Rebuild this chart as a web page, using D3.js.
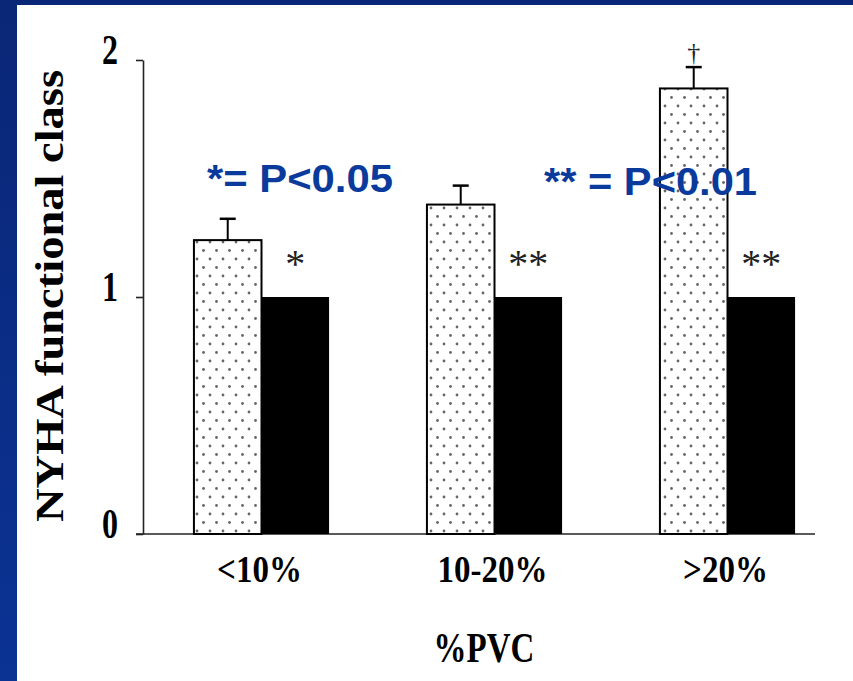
<!DOCTYPE html>
<html>
<head>
<meta charset="utf-8">
<script src="https://cdn.jsdelivr.net/npm/d3@7/dist/d3.min.js"></script>
<style>
  html, body { margin: 0; padding: 0; background: #fff; }
  svg { display: block; }
</style>
</head>
<body>
<svg id="chart" width="853" height="681"></svg>
<script>
// NYHA functional class by PVC burden: before (dotted) vs after (black)
const categories = ["<10%", "10-20%", ">20%"];
const beforeValues = [1.24, 1.39, 1.88];
const beforeErrors = [0.09, 0.08, 0.09];
const afterValues = [1.0, 1.0, 1.0];
const significance = ["*", "**", "**"];
const yTicks = [0, 1, 2];
const yLabel = "NYHA functional class";
const xLabel = "%PVC";
const noteOne = "*= P<0.05";
const noteTwo = "** = P<0.01";

const svg = d3.select("#chart");
const W = 853, H = 681;

// slide frame
const grad = svg.append("defs").append("linearGradient").attr("id", "frame")
  .attr("x1", 0).attr("y1", 0).attr("x2", 0).attr("y2", 1);
grad.append("stop").attr("offset", 0).attr("stop-color", "#0a2676");
grad.append("stop").attr("offset", 1).attr("stop-color", "#0b3394");
svg.append("rect").attr("x", 0).attr("y", 0).attr("width", W).attr("height", H).attr("fill", "url(#frame)");
svg.append("rect").attr("x", 17).attr("y", 5).attr("width", W - 17).attr("height", H - 5).attr("fill", "#fff");

// stipple fill
const defs = svg.append("defs");
const pat = defs.append("pattern").attr("id", "dots")
  .attr("patternUnits", "userSpaceOnUse").attr("width", 13).attr("height", 17)
  .attr("x", 194).attr("y", 0);
pat.append("circle").attr("cx", 3).attr("cy", 4).attr("r", 1.4).attr("fill", "#666");
pat.append("circle").attr("cx", 9.5).attr("cy", 12.5).attr("r", 1.4).attr("fill", "#666");

const y = d3.scaleLinear().domain([0, 2]).range([534, 60]);
const x = d3.scaleBand().domain(categories).range([145, 844])
  .paddingInner(0.42).paddingOuter(0.21);
const half = x.bandwidth() / 2;

const serif = "'Liberation Serif', 'Times New Roman', serif";

// y axis
const yAxis = d3.axisLeft(y).tickValues(yTicks).tickSize(7).tickSizeOuter(0).tickFormat(d3.format("d"));
const gy = svg.append("g").attr("transform", "translate(143,0)").call(yAxis);
gy.select(".domain").attr("stroke", "#222").attr("stroke-width", 1.6);
gy.selectAll(".tick line").attr("stroke", "#222").attr("stroke-width", 1.6);
gy.selectAll(".tick text")
  .attr("x", -25).attr("y", 0).attr("dy", null)
  .attr("transform", "translate(0,3) scale(1,1.3)")
  .attr("font-family", serif).attr("font-weight", "bold").attr("font-size", 32)
  .attr("fill", "#000");

// baseline
svg.append("line")
  .attr("x1", 136).attr("x2", 815).attr("y1", y(0)).attr("y2", y(0))
  .attr("stroke", "#222").attr("stroke-width", 1.6);

const groups = svg.append("g").selectAll("g").data(categories).join("g");

// dotted bars
groups.append("rect")
  .attr("x", d => x(d))
  .attr("y", (d, i) => y(beforeValues[i]))
  .attr("width", half)
  .attr("height", (d, i) => y(0) - y(beforeValues[i]))
  .attr("fill", "url(#dots)").attr("stroke", "#000").attr("stroke-width", 2);

// error bars
groups.append("line")
  .attr("x1", d => x(d) + half / 2).attr("x2", d => x(d) + half / 2)
  .attr("y1", (d, i) => y(beforeValues[i]))
  .attr("y2", (d, i) => y(beforeValues[i] + beforeErrors[i]))
  .attr("stroke", "#000").attr("stroke-width", 2);
groups.append("line")
  .attr("x1", d => x(d) + half / 2 - 8).attr("x2", d => x(d) + half / 2 + 8)
  .attr("y1", (d, i) => y(beforeValues[i] + beforeErrors[i]))
  .attr("y2", (d, i) => y(beforeValues[i] + beforeErrors[i]))
  .attr("stroke", "#000").attr("stroke-width", 2.5);

// black bars
groups.append("rect")
  .attr("x", d => x(d) + half)
  .attr("y", (d, i) => y(afterValues[i]))
  .attr("width", half)
  .attr("height", (d, i) => y(0) - y(afterValues[i]))
  .attr("fill", "#000");

// significance marks
groups.append("text")
  .attr("x", d => x(d) + half * 1.5)
  .attr("y", (d, i) => y(afterValues[i]) - 20)
  .attr("text-anchor", "middle")
  .attr("font-family", serif).attr("font-size", 40).attr("fill", "#222")
  .text((d, i) => significance[i]);

// dagger over the highest bar
svg.append("text")
  .attr("x", x(categories[2]) + half / 2).attr("y", y(beforeValues[2] + beforeErrors[2]) - 6)
  .attr("text-anchor", "middle")
  .attr("font-family", serif).attr("font-size", 26).attr("fill", "#222")
  .text("†");

// category labels
svg.append("g").selectAll("text").data(categories).join("text")
  .attr("transform", d => `translate(${x(d) + half - 2},582) scale(1,1.15)`)
  .attr("text-anchor", "middle")
  .attr("font-family", serif).attr("font-weight", "bold").attr("font-size", 33)
  .attr("fill", "#000")
  .text(d => d);

// axis titles
svg.append("text")
  .attr("transform", "translate(484,662) scale(1,1.3)")
  .attr("text-anchor", "middle")
  .attr("font-family", serif).attr("font-weight", "bold").attr("font-size", 33)
  .attr("fill", "#000")
  .text(xLabel);

svg.append("text")
  .attr("transform", "translate(63,296) rotate(-90)")
  .attr("text-anchor", "middle")
  .attr("font-family", serif).attr("font-weight", "bold").attr("font-size", 41)
  .attr("textLength", 452).attr("lengthAdjust", "spacingAndGlyphs")
  .attr("fill", "#000")
  .text(yLabel);

// p-value notes
const sans = "Arial, 'Liberation Sans', sans-serif";
svg.append("text")
  .attr("x", 207).attr("y", 192)
  .attr("font-family", sans).attr("font-weight", "bold").attr("font-size", 39)
  .attr("textLength", 186).attr("lengthAdjust", "spacingAndGlyphs")
  .attr("fill", "#0a3b9c")
  .text(noteOne);
svg.append("text")
  .attr("x", 544).attr("y", 195)
  .attr("font-family", sans).attr("font-weight", "bold").attr("font-size", 39)
  .attr("textLength", 213).attr("lengthAdjust", "spacingAndGlyphs")
  .attr("fill", "#0a3b9c")
  .text(noteTwo);
</script>
</body>
</html>
